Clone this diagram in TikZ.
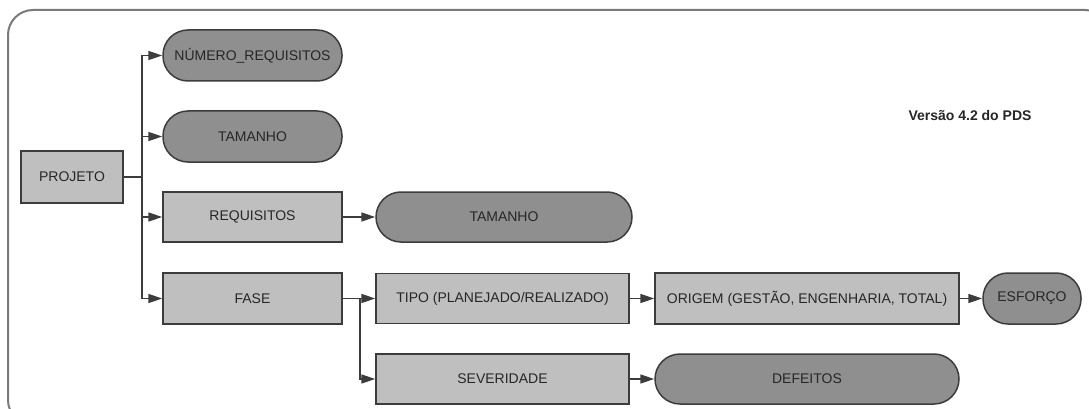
\documentclass[tikz,border=0pt]{standalone}
\usepackage{fontspec}
\setmainfont{Liberation Sans}
\usetikzlibrary{arrows.meta}
\definecolor{boxfill}{HTML}{BFBFBF}
\definecolor{capfill}{HTML}{8F8F8F}
\definecolor{edge}{HTML}{3C3C3C}
\definecolor{txt}{HTML}{262626}
\definecolor{frame}{HTML}{7A7A7A}
\begin{document}
\begin{tikzpicture}[x=1pt,y=-1pt,
  base/.style={draw=edge,line width=1.5pt,inner sep=0pt,text=txt,font=\fontsize{14}{16}\selectfont,anchor=center},
  rectbox/.style={base,rectangle,fill=boxfill},
  capsule/.style={base,rectangle,fill=capfill,rounded corners=25pt},
  conn/.style={draw=edge,line width=1.6pt,-{Triangle[length=14pt,width=9pt]}},
  plain/.style={draw=edge,line width=1.6pt}]
\useasboundingbox (0,0) rectangle (1089,409);
\clip (0,0) rectangle (1089,409);
\fill[white] (0,0) rectangle (1089,409);
\draw[frame,line width=2pt,rounded corners=25pt] (8,10) rectangle (1110,425);

\node[rectbox,minimum width=102pt,minimum height=52pt] (projeto) at (72,177) {PROJETO};
\node[capsule,minimum width=179pt,minimum height=51pt] (num) at (252.5,55.5) {NÚMERO\_REQUISITOS};
\node[capsule,minimum width=179pt,minimum height=51pt] (tam1) at (252.5,136.5) {TAMANHO};
\node[rectbox,minimum width=179pt,minimum height=50pt] (req) at (252.5,217) {REQUISITOS};
\node[rectbox,minimum width=179pt,minimum height=51pt] (fase) at (252.5,298.5) {FASE};
\node[capsule,minimum width=256pt,minimum height=50pt] (tam2) at (504,217) {TAMANHO};
\node[rectbox,minimum width=253pt,minimum height=50pt] (tipo) at (502.5,298.5) {TIPO (PLANEJADO/REALIZADO)};
\node[rectbox,minimum width=304pt,minimum height=51pt] (origem) at (807,298.5) {ORIGEM (GESTÃO, ENGENHARIA, TOTAL)};
\node[capsule,minimum width=98pt,minimum height=51pt] (esforco) at (1032,298.5) {ESFORÇO};
\node[rectbox,minimum width=253pt,minimum height=50pt] (sev) at (502.5,379) {SEVERIDADE};
\node[capsule,minimum width=304pt,minimum height=50pt] (def) at (807,379) {DEFEITOS};
\node[text=txt,font=\fontsize{14}{16}\selectfont\bfseries,inner sep=0pt] (ver) at (970,115) {Versão 4.2 do PDS};

\coordinate (j1) at (142,177);
\coordinate (j2) at (360,298.5);
\draw[plain] (projeto.east) -- (j1);
\draw[conn] (j1) |- (num.west);
\draw[conn] (j1) |- (tam1.west);
\draw[conn] (j1) |- (req.west);
\draw[conn] (j1) |- (fase.west);
\draw[conn] (req.east) -- (tam2.west);
\draw[plain] (fase.east) -- (j2);
\draw[conn] (j2) -- (tipo.west);
\draw[conn] (j2) |- (sev.west);
\draw[conn] (tipo.east) -- (origem.west);
\draw[conn] (origem.east) -- (esforco.west);
\draw[conn] (sev.east) -- (def.west);
\end{tikzpicture}
\end{document}
